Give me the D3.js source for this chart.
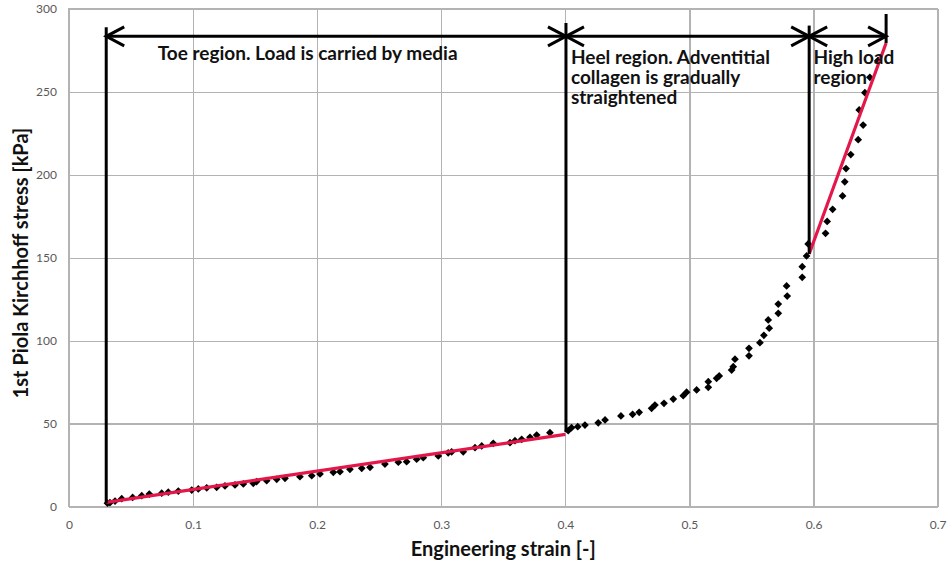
<!DOCTYPE html>
<html>
<head>
<meta charset="utf-8">
<script src="https://cdn.jsdelivr.net/npm/d3@7"></script>
<style>
  html, body { margin: 0; padding: 0; background: #fff; }
  svg { display: block; }
  .tick text { font-family: Lato, "Open Sans", sans-serif; font-size: 12px; fill: #595959; }
</style>
</head>
<body>
<svg id="chart" width="948" height="564"></svg>
<script>
// Measured strain / stress pairs (engineering strain [-], stress [kPa])
const strain = [
  0.031, 0.033, 0.0371, 0.0425, 0.0513, 0.0586, 0.0647, 0.0747, 0.080, 0.0881,
  0.0989, 0.1042, 0.111, 0.119, 0.1257, 0.1338, 0.1405, 0.1485, 0.1512, 0.1593,
  0.1674, 0.1741, 0.1861, 0.1956, 0.2023, 0.213, 0.2184, 0.2264, 0.2359, 0.2426,
  0.2546, 0.2654, 0.2721, 0.2802, 0.2855, 0.2976, 0.3056, 0.3084, 0.3177, 0.3272,
  0.3326, 0.3419, 0.3554, 0.3594, 0.3648, 0.3715, 0.3769, 0.3876, 0.4023, 0.405,
  0.410, 0.4158, 0.4265, 0.432, 0.4448, 0.4542, 0.4595, 0.4695, 0.4722, 0.4795,
  0.487, 0.495, 0.4977, 0.5058, 0.5152, 0.5152, 0.5219, 0.524, 0.534, 0.5353,
  0.5367, 0.548, 0.548, 0.5568, 0.560, 0.5643, 0.5635, 0.5716, 0.5716, 0.5788,
  0.5783, 0.5909, 0.5909, 0.5944, 0.5957, 0.6097, 0.611, 0.6154, 0.6234, 0.6252,
  0.6262, 0.630, 0.636, 0.640, 0.6368, 0.6414, 0.6454, 0.652
];
const stress = [
  2.0, 2.3, 3.3, 4.7, 5.5, 6.5, 7.5, 8.0, 8.6, 9.3,
  9.9, 10.6, 11.3, 11.6, 12.4, 13.0, 13.6, 14.0, 15.0, 15.6,
  16.4, 17.0, 18.0, 18.6, 19.6, 20.6, 21.0, 22.4, 23.0, 23.6,
  25.6, 26.7, 27.0, 28.5, 29.4, 30.5, 32.4, 33.0, 33.0, 35.5,
  36.5, 38.1, 38.5, 39.7, 40.5, 41.7, 43.1, 44.5, 45.7, 47.5,
  48.1, 49.1, 50.5, 52.2, 54.6, 55.6, 56.8, 59.2, 61.2, 62.2,
  64.8, 66.8, 68.9, 70.3, 71.9, 75.3, 77.3, 78.7, 82.3, 84.3,
  88.8, 90.9, 95.4, 98.8, 103.2, 107.5, 112.5, 116.5, 122.1, 126.9,
  133.0, 138.2, 144.6, 151.1, 158.3, 164.7, 171.9, 179.2, 187.3, 195.8,
  203.8, 212.2, 221.2, 230.0, 239.1, 249.5, 258.8, 269.0
];

// Linear fits: toe region and high load region
const toeFit = [[0.03, 2.5], [0.40, 43.5]];
const highFit = [[0.5965, 152.3], [0.6585, 279.5]];

// Region boundaries (strain) and region labels
const boundaries = [0.03, 0.4005, 0.5965, 0.6585];
const arrowLevel = 283.5;
const regionLabels = [
  { x: 0.0715, lines: ["Toe region. Load is carried by media"] },
  { x: 0.4045, lines: ["Heel region. Adventitial", "collagen is gradually", "straightened"] },
  { x: 0.6, lines: ["High load", "region"] }
];

const xTicks = [0, 0.1, 0.2, 0.3, 0.4, 0.5, 0.6, 0.7];
const yTicks = [0, 50, 100, 150, 200, 250, 300];

const svg = d3.select("#chart");
const plotL = 69, plotR = 937.6, plotT = 9, plotB = 506.5;
const x = d3.scaleLinear().domain([0, 0.7]).range([plotL, plotR]);
const y = d3.scaleLinear().domain([0, 300]).range([plotB, plotT]);

// Grid + axes
svg.append("g").attr("transform", `translate(0,${plotB})`)
  .call(d3.axisBottom(x).tickValues(xTicks).tickFormat(d3.format("")).tickSizeInner(-(plotB - plotT)).tickSizeOuter(0).tickPadding(14));
svg.append("g").attr("transform", `translate(${plotL},0)`)
  .call(d3.axisLeft(y).tickValues(yTicks).tickSizeInner(-(plotR - plotL)).tickSizeOuter(0).tickPadding(12));
svg.selectAll(".domain").remove();
svg.selectAll(".tick line").attr("stroke", "#b3b3b3").attr("stroke-width", 1.2).attr("shape-rendering", "crispEdges");
svg.append("rect").attr("x", plotL).attr("y", plotT).attr("width", plotR - plotL).attr("height", plotB - plotT)
  .attr("fill", "none").attr("stroke", "#b3b3b3").attr("stroke-width", 1.2).attr("shape-rendering", "crispEdges");

// Data markers
const pts = strain.map((s, i) => [s, stress[i]]);
const diamond = d3.symbol(d3.symbolSquare, 30)();
svg.append("g").selectAll("path").data(pts).join("path")
  .attr("d", diamond)
  .attr("transform", d => `translate(${x(d[0])},${y(d[1])}) rotate(45)`)
  .attr("fill", "#000");

// Fitted lines
const line = d3.line().x(d => x(d[0])).y(d => y(d[1]));
[toeFit, highFit].forEach(seg => {
  svg.append("path").attr("d", line(seg)).attr("fill", "none")
    .attr("stroke", "#e3174a").attr("stroke-width", 3.2);
});

// Region boundary verticals
const verticals = [
  [boundaries[0], 289, 2.0],
  [boundaries[1], 291.5, 45.0],
  [boundaries[2], 290, 152.3],
  [boundaries[3], 297, 279.5]
];
const ann = svg.append("g").attr("stroke", "#000").attr("stroke-width", 3).attr("fill", "none");
verticals.forEach(v => {
  ann.append("line").attr("x1", x(v[0])).attr("x2", x(v[0])).attr("y1", y(v[1])).attr("y2", y(v[2]));
});

// Double-headed arrows between boundaries
const yA = y(arrowLevel);
ann.append("line").attr("x1", x(boundaries[0])).attr("x2", x(boundaries[3])).attr("y1", yA).attr("y2", yA);
function head(px, dir) {
  ann.append("path").attr("d", `M${px + dir * 18},${yA - 9.5}L${px},${yA}L${px + dir * 18},${yA + 9.5}`)
    .attr("stroke-linejoin", "miter");
}
for (let i = 0; i < boundaries.length - 1; i++) {
  head(x(boundaries[i]), 1);
  head(x(boundaries[i + 1]), -1);
}

// Region labels
regionLabels.forEach((r, i) => {
  const t = svg.append("text").attr("x", x(r.x)).attr("y", i === 0 ? 60 : 64)
    .attr("font-family", "Lato, 'Open Sans', sans-serif").attr("font-weight", "bold")
    .attr("font-size", 19).attr("fill", "#111");
  r.lines.forEach((s, j) => t.append("tspan").attr("x", x(r.x)).attr("dy", j === 0 ? 0 : 20).text(s));
});

// Axis titles
svg.append("text").attr("x", (plotL + plotR) / 2).attr("y", 556).attr("text-anchor", "middle")
  .attr("font-family", "Lato, 'Open Sans', sans-serif").attr("font-weight", "bold").attr("font-size", 20)
  .attr("fill", "#111").text("Engineering strain [-]");
svg.append("text").attr("transform", `translate(28,263) rotate(-90)`).attr("text-anchor", "middle")
  .attr("font-family", "Lato, 'Open Sans', sans-serif").attr("font-weight", "bold").attr("font-size", 20)
  .attr("fill", "#111").text("1st Piola Kirchhoff stress [kPa]");
</script>
</body>
</html>
